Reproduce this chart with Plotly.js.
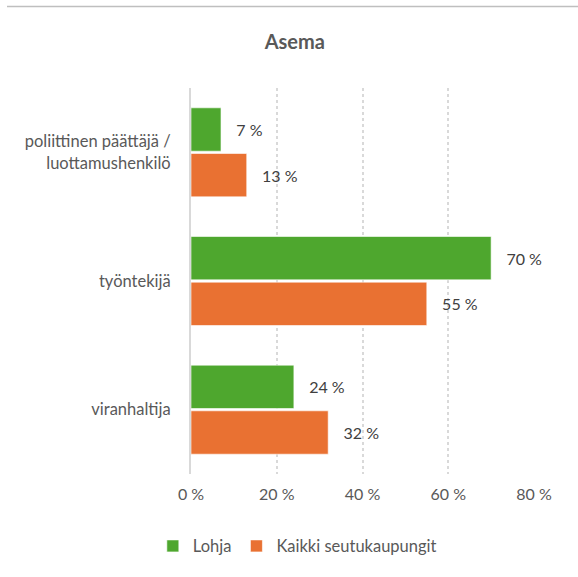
<!DOCTYPE html>
<html>
<head>
<meta charset="utf-8">
<script src="https://cdn.plot.ly/plotly-3.0.1.min.js"></script>
<style>html,body{margin:0;padding:0;background:#fff;}#chart{width:578px;height:577px;}</style>
</head>
<body>
<div id="chart"></div>
<script>
const categories = ["poliittinen päättäjä /<br>luottamushenkilö", "työntekijä", "viranhaltija"];
const lohja = [7, 70, 24];
const kaikki = [13, 55, 32];
const seriesNames = ["Lohja", "Kaikki seutukaupungit"];
const xTicks = [0, 20, 40, 60, 80];
const xTickLabels = ["0 %", "20 %", "40 %", "60 %", "80 %"];

const FONT = "Lato, 'Open Sans', sans-serif";
const pad = "\u00a0\u00a0\u00a0";

function bar(name, vals, color) {
  return {
    type: "bar", orientation: "h", name: name,
    y: categories, x: vals,
    marker: {color: color, line: {color: "rgba(255,255,255,0.6)", width: 1}},
    text: vals.map(v => pad + v + " %"),
    textposition: "outside", cliponaxis: false,
    textfont: {family: FONT, size: 16, color: "#404040"},
    hoverinfo: "skip"
  };
}

const data = [bar(seriesNames[0], lohja, "#4EA72E"), bar(seriesNames[1], kaikki, "#E97132")];

const layout = {
  width: 578, height: 577,
  margin: {l: 191, r: 44, t: 88, b: 103},
  paper_bgcolor: "#fff", plot_bgcolor: "#fff",
  font: {family: FONT, size: 16, color: "#595959"},
  title: {text: "<b>Asema</b>", x: 0.51, xref: "container", xanchor: "center",
          y: 1 - 42/577, yref: "container", yanchor: "middle",
          font: {family: FONT, size: 20, color: "#595959"}},
  barmode: "group", bargap: 0.29, bargroupgap: 0.05,
  xaxis: {range: [0, 80], tickvals: xTicks, ticktext: xTickLabels,
          showgrid: true, gridcolor: "#D9D9D9", griddash: "dot", gridwidth: 2,
          zeroline: false, showline: false, ticks: "", ticklabelstandoff: 9,
          tickfont: {family: FONT, size: 16, color: "#595959"}, fixedrange: true},
  yaxis: {autorange: "reversed", showgrid: false, zeroline: false,
          showline: true, linecolor: "#D9D9D9", linewidth: 2, ticks: "",
          ticklabelstandoff: 15,
          tickfont: {family: FONT, size: 16.5, color: "#595959"}, fixedrange: true},
  showlegend: true,
  legend: {orientation: "h", x: 0.31, xanchor: "center", y: -0.187, yanchor: "middle",
           font: {family: FONT, size: 16.5, color: "#595959"}, itemwidth: 30,
           traceorder: "normal"},
  shapes: [{type: "line", xref: "paper", yref: "paper",
            x0: (7-191)/343, x1: (578-191)/343, y0: (474-6.5)/386, y1: (474-6.5)/386,
            line: {color: "#BFBFBF", width: 1.5}}]
};

Plotly.newPlot("chart", data, layout, {displayModeBar: false, staticPlot: true});
</script>
</body>
</html>
